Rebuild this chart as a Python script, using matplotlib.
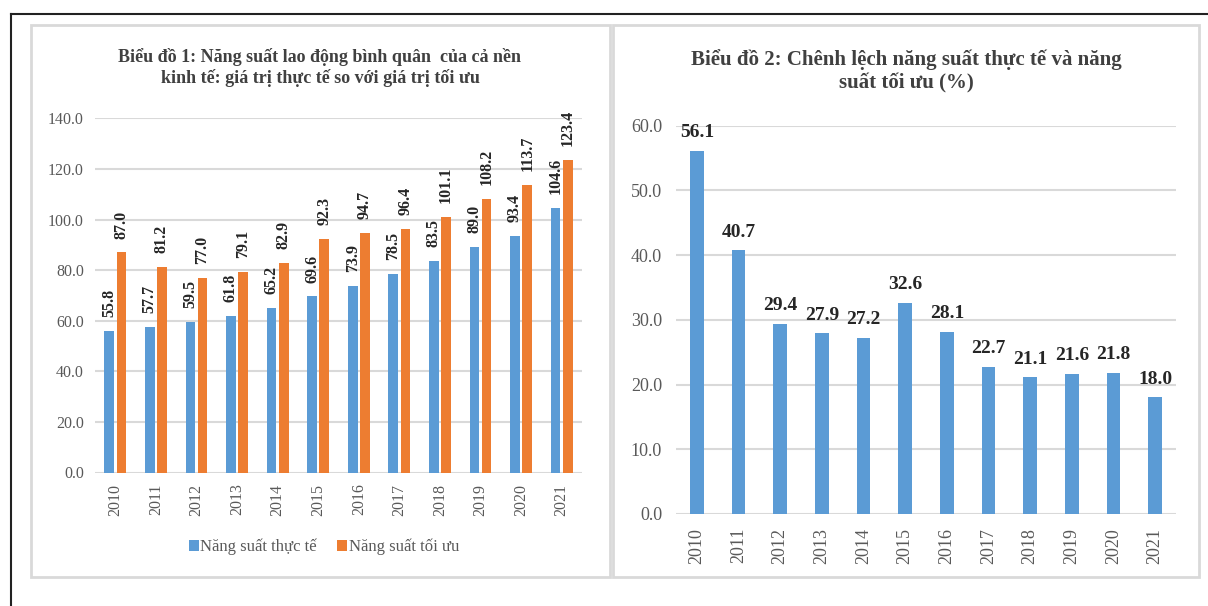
import matplotlib
matplotlib.use("Agg")
import matplotlib.pyplot as plt
from matplotlib.patches import Rectangle
from matplotlib.lines import Line2D
import numpy as np

years = ["2010", "2011", "2012", "2013", "2014", "2015",
         "2016", "2017", "2018", "2019", "2020", "2021"]
actual = [55.8, 57.7, 59.5, 61.8, 65.2, 69.6, 73.9, 78.5, 83.5, 89.0, 93.4, 104.6]
optimal = [87.0, 81.2, 77.0, 79.1, 82.9, 92.3, 94.7, 96.4, 101.1, 108.2, 113.7, 123.4]
gap_pct = [56.1, 40.7, 29.4, 27.9, 27.2, 32.6, 28.1, 22.7, 21.1, 21.6, 21.8, 18.0]

title1 = "Biểu đồ 1: Năng suất lao động bình quân  của cả nền\nkinh tế: giá trị thực tế so với giá trị tối ưu"
title2 = "Biểu đồ 2: Chênh lệch năng suất thực tế và năng\nsuất tối ưu (%)"
legend_labels = ["Năng suất thực tế", "Năng suất tối ưu"]

plt.rcParams["font.family"] = ["Liberation Serif", "DejaVu Serif"]

BLUE = "#5B9BD5"
ORANGE = "#ED7D31"
GRID = "#D9D9D9"
TICK = "#595959"
LABEL = "#262626"

W, H = 1208, 606
fig = plt.figure(figsize=(W / 100, H / 100), dpi=100)


def fx(px):
    return px / W


def fy(py):
    return (H - py) / H


# outer frame (black lines top and left) and the two grey panels
fig.add_artist(Line2D([fx(11), 1.0], [fy(14), fy(14)], color="#222222", lw=1.5))
fig.add_artist(Line2D([fx(11), fx(11)], [fy(14), 0.0], color="#222222", lw=1.5))
for x0, x1 in [(31, 610), (613, 1199)]:
    fig.add_artist(Rectangle((fx(x0), fy(577)), fx(x1 - x0), (577 - 25) / H,
                             fill=False, edgecolor=GRID, lw=2))

x = np.arange(len(years))

# chart 1
ax1 = fig.add_axes([fx(95), fy(472.5), fx(582 - 95), (472.5 - 118.3) / H])
bw = 0.24
b1 = ax1.bar(x - 0.15, actual, bw, color=BLUE, label=legend_labels[0], zorder=3)
b2 = ax1.bar(x + 0.15, optimal, bw, color=ORANGE, label=legend_labels[1], zorder=3)
for bars in (b1, b2):
    ax1.bar_label(bars, fmt="%.1f", rotation=90, padding=10, fontsize=11.5,
                  fontweight="bold", color=LABEL)
ax1.set_ylim(0, 140)
ax1.set_xlim(-0.5, 11.5)
ax1.set_yticks(np.arange(0, 141, 20))
ax1.set_yticklabels([f"{v:.1f}" for v in np.arange(0, 141, 20)])
ax1.set_xticks(x)
ax1.set_xticklabels(years, rotation=90)
ax1.tick_params(axis="both", length=0, labelsize=11.5, labelcolor=TICK, pad=8)
ax1.grid(axis="y", color=GRID, lw=1.5, zorder=0)
for s in ax1.spines.values():
    s.set_visible(False)
ax1.legend(loc="center", bbox_to_anchor=(fx(324), fy(547)), bbox_transform=fig.transFigure,
           ncol=2, frameon=False, fontsize=12, handlelength=0.6, handleheight=0.6,
           handletextpad=0.1, columnspacing=1.2, labelcolor=TICK)
fig.text(fx(320), fy(67.5), title1, ha="center", va="center", fontsize=13,
         fontweight="bold", color="#404040", linespacing=1.15)

# chart 2
ax2 = fig.add_axes([fx(676), fy(514), fx(1176 - 676), (514 - 125.5) / H])
b3 = ax2.bar(x, gap_pct, 0.33, color=BLUE, zorder=3)
ax2.bar_label(b3, fmt="%.1f", padding=7, fontsize=14, fontweight="bold", color=LABEL)
ax2.set_ylim(0, 60)
ax2.set_xlim(-0.5, 11.5)
ax2.set_yticks(np.arange(0, 61, 10))
ax2.set_yticklabels([f"{v:.1f}" for v in np.arange(0, 61, 10)])
ax2.set_xticks(x)
ax2.set_xticklabels(years, rotation=90)
ax2.tick_params(axis="both", length=0, labelsize=13, labelcolor=TICK, pad=10)
ax2.grid(axis="y", color=GRID, lw=1.5, zorder=0)
for s in ax2.spines.values():
    s.set_visible(False)
fig.text(fx(906), fy(71), title2, ha="center", va="center", fontsize=15,
         fontweight="bold", color="#404040", linespacing=1.25)

fig.savefig("out.png", dpi=100)
